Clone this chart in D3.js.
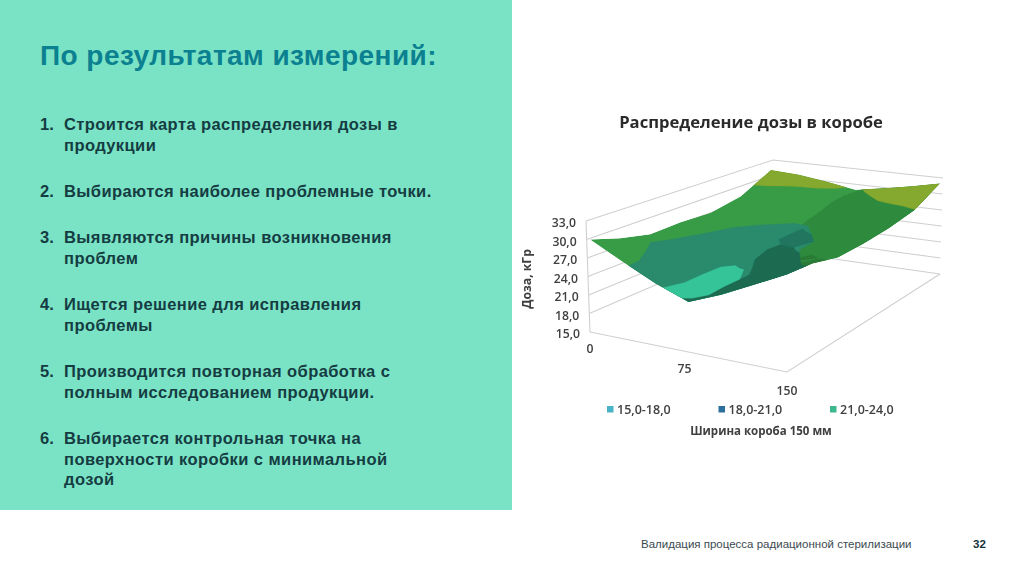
<!DOCTYPE html><html><head><meta charset="utf-8"><script src="https://cdnjs.cloudflare.com/ajax/libs/d3/7.8.5/d3.min.js"></script>
<style>html,body{margin:0;background:#fff}svg{display:block}text{font-family:"Liberation Sans",Arial,sans-serif}.ch text{font-family:"Open Sans",sans-serif}</style></head><body><svg id="c" width="1024" height="574"></svg>
<script>
const yTicks=[15,18,21,24,27,30,33];
const xTicks=[0,75,150];
const legendLabels=["15,0-18,0","18,0-21,0","21,0-24,0"];
const legendColors=["#4bb3c8","#2c6e9c","#3cb88c"];
const listNumbers=["1.","2.","3.","4.","5.","6."];
const listLines=[["Строится карта распределения дозы в","продукции"],["Выбираются наиболее проблемные точки."],["Выявляются причины возникновения","проблем"],["Ищется решение для исправления","проблемы"],["Производится повторная обработка с","полным исследованием продукции."],["Выбирается контрольная точка на","поверхности коробки с минимальной","дозой"]];
const listStartY=[130,197,243,310,377,444];
const heights=[
[30,27.3,24.8,22.9,25,27.5,30],
[28.4,26.5,25,24.5,26,27.8,29.6],
[27.2,26.5,25.6,25.5,26.5,27.5,28.4],
[27.3,27,26.8,26.8,27.3,27.8,28.4],
[27,27.5,27.8,28,28.2,28.5,28.7],
[28,28.8,29,29,29.3,29.5,29.5],
[31,30.7,29.9,29,29.9,30.9,32]];
const darkGreenRows=[
[-1,-1,-1,-1,-1,1,1,1,1,1,1,1,1],
[-1,-1,-1,-1,-1,1,1,1,1,1,1,1,1],
[-1,-1,-1,-1,-1,1,1,1,1,1,1,1,1],
[-1,-1,-1,-1,-1,1,1,1,1,1,1,1,1],
[-1,-1,-1,-1,-1,1,1,1,1,1,1,1,1],
[-1,-1,-1,-1,-1,1,1,1,1,1,1,1,1],
[-1,-1,-1,-1,-1,-1,1,1,1,1,1,1,1],
[-1,-1,-1,-1,-1,-1,-1,.5,1,1,1,1,1],
[-1,-1,-1,-1,-1,-1,-.7,.7,1,1,1,1,1],
[-1,-1,-1,-1,-1,-1,-.7,.9,1,1,1,1,1],
[-1,-1,-1,-1,-1,-1,-.4,1,1,1,1,1,1],
[-1,-1,-1,-1,-1,-1,-.2,1,1,1,1,1,1],
[-1,-1,-1,-1,-1,-1,-.5,.5,1,1,1,1,1]];
const tealRows=[
[-1,-1,-.6,1.2,1,1,1,1,1,1,1,1,1],
[-1,-1,-.2,1,1,1,1,1,1,1,1,1,1],
[-1,-1,.7,1,1,1,1,1,1,1,1,.4,-.6],
[-1.2,.05,.8,1,1,1,1,1,1,1,.7,-.8,-1],
[-.8,-.15,.5,1,1,1,1,1,1,.9,-.7,-1,-1],
[-1.1,-.5,.1,.8,1,1,1,1,1,-.5,-1,-1,-1],
[-1,-.9,-.3,.25,1,1,1,1,1.1,-.4,-1,-1,-1],
[-1,-1,-.65,-.25,.02,.3,.6,.7,-.5,-1,-1,-1,-1],
[-1,-1,-1,-1,-.8,-.55,-.35,-.7,-1,-1,-1,-1,-1],
[-1,-1,-1,-1,-1,-1,-1,-1,-1,-1,-1,-1,-1],
[-1,-1,-1,-1,-1,-1,-1,-1,-1,-1,-1,-1,-1],
[-1,-1,-1,-1,-1,-1,-1,-1,-1,-1,-1,-1,-1],
[-1,-1,-1,-1,-1,-1,-1,-1,-1,-1,-1,-1,-1]];
const lightRows=[
[-1,-1,-1,-1,-.7,.9,1,1,.5,-.5,-1,-1,-1],
[-1,-1,-1,-1,-1,.15,1,1,.3,-.5,-1,-1,-1],
[-1,-1,-1,-1,-1,-.1,1,1,-.8,-1,-1,-1,-1],
[-1,-1,-1,-1,-.7,-.2,.3,-.2,-1,-1,-1,-1,-1],
[-1,-1,-1,-1,-1,-1,-.5,-1,-1,-1,-1,-1,-1],
[-1,-1,-1,-1,-1,-1,-1,-1,-1,-1,-1,-1,-1],
[-1,-1,-1,-1,-1,-1,-1,-1,-1,-1,-1,-1,-1],
[-1,-1,-1,-1,-1,-1,-1,-1,-1,-1,-1,-1,-1],
[-1,-1,-1,-1,-1,-1,-1,-1,-1,-1,-1,-1,-1],
[-1,-1,-1,-1,-1,-1,-1,-1,-1,-1,-1,-1,-1],
[-1,-1,-1,-1,-1,-1,-1,-1,-1,-1,-1,-1,-1],
[-1,-1,-1,-1,-1,-1,-1,-1,-1,-1,-1,-1,-1],
[-1,-1,-1,-1,-1,-1,-1,-1,-1,-1,-1,-1,-1]];
const patchRows=[
[-1,-1,-1,-1,-1,-1,-1,-1,-1,-1,-1,-1,-1],
[-1,-1,-1,-1,-1,-1,-1,-1,-1,-1,-1,-1,-.1],
[-1,-1,-1,-1,-1,-1,-1,-1,-1,-1,-1,-.4,1],
[-1,-1,-1,-1,-1,-1,-1,-1,-1,-1,-.7,.7,.1],
[-1,-1,-1,-1,-1,-1,-1,-1,-1,-.5,.5,-.2,-.7],
[-1,-1,-1,-1,-1,-1,-1,-1,-1,-.2,-.8,-1,-1],
[-1,-1,-1,-1,-1,-1,-1,-1,-1,-1,-1,-1,-1],
[-1,-1,-1,-1,-1,-1,-1,-1,-1,-1,-1,-1,-1],
[-1,-1,-1,-1,-1,-1,-1,-1,-1,-1,-1,-1,-1],
[-1,-1,-1,-1,-1,-1,-1,-1,-1,-1,-1,-1,-1],
[-1,-1,-1,-1,-1,-1,-1,-1,-1,-1,-1,-1,-1],
[-1,-1,-1,-1,-1,-1,-1,-1,-1,-1,-1,-1,-1],
[-1,-1,-1,-1,-1,-1,-1,-1,-1,-1,-1,-1,-1]];
const darkRows=[
[-1,-1,-1,-1,-1,-.5,.3,.1,.5,1,1,1,1],
[-1,-1,-1,-1,-1,-1,-.7,-.25,.4,.8,1,1,1],
[-1,-1,-1,-1,-1,-1,-1,-.5,-.05,.5,1,.4,-.6],
[-1,-1,-1,-1,-1,-1,-1,-.5,.7,1,.7,-.8,-1],
[-1,-1,-1,-1,-1,-1,-1,.4,1,.9,-.7,-1,-1],
[-1,-1,-1,-1,-1,-1,-.9,.6,.3,-.5,-1,-1,-1],
[-1,-1,-1,-1,-1,-1,-.3,-.6,-.6,-1,-1,-1,-1],
[-1,-1,-1,-1,-1,-1,-1,-1,-1,-1,-1,-1,-1],
[-1,-1,-1,-1,-1,-1,-1,-1,-1,-1,-1,-1,-1],
[-1,-1,-1,-1,-1,-1,-1,-1,-1,-1,-1,-1,-1],
[-1,-1,-1,-1,-1,-1,-1,-1,-1,-1,-1,-1,-1],
[-1,-1,-1,-1,-1,-1,-1,-1,-1,-1,-1,-1,-1],
[-1,-1,-1,-1,-1,-1,-1,-1,-1,-1,-1,-1,-1]];
const midDarkRows=[
[-1,-1,-1,-1,-1,-1,-1,-1,-1,-1,-1,-1,-1],
[-1,-1,-1,-1,-1,-1,-1,-1,-1,-1,-1,-1,-1],
[-1,-1,-1,-1,-1,-1,-1,-1,-1,-1,-1,-1,-1],
[-1,-1,-1,-1,-1,-1,-1,-1,-1,-1,-1,-1,-1],
[-1,-1,-1,-1,-1,-1,-1,-1,-1,-1,-1,-1,-1],
[-1,-1,-1,-1,-1,-1,-1,-.6,-.3,-.4,-1,-1,-1],
[-1,-1,-1,-1,-1,-1,-.4,.5,1,-.4,-1,-1,-1],
[-1,-1,-1,-1,-1,-1,-.7,.15,-.5,-1,-1,-1,-1],
[-1,-1,-1,-1,-1,-1,-.9,-.7,-1,-1,-1,-1,-1],
[-1,-1,-1,-1,-1,-1,-1,-1,-1,-1,-1,-1,-1],
[-1,-1,-1,-1,-1,-1,-1,-1,-1,-1,-1,-1,-1],
[-1,-1,-1,-1,-1,-1,-1,-1,-1,-1,-1,-1,-1],
[-1,-1,-1,-1,-1,-1,-1,-1,-1,-1,-1,-1,-1]];
const oliveRows=[
[-1,-1,-1,-1,-1,-1,-1,-1,-1,-1,-1,-1,-1],
[-1,-1,-1,-1,-1,-1,-1,-1,-1,-1,-1,-1,-1],
[-1,-1,-1,-1,-1,-1,-1,-1,-1,-1,-1,-1,-1],
[-1,-1,-1,-1,-1,-1,-1,-1,-1,-1,-1,-1,-1],
[-1,-1,-1,-1,-1,-1,-1,-1,-1,-1,-1,-1,-1],
[-1,-1,-1,-1,-1,-1,-1,-1,-1,-1,-1,-1,-1],
[-1,-1,-1,-1,-1,-1,-1,-1,-1,-1,-1,-1,-1],
[-1,-1,-1,-1,-1,-1,-1,-1,-1,-1,-1,-1,-1],
[-1,-1,-1,-1,-1,-1,-1,-1,-1,-1,-1,-1,-1],
[-1,-1,-1,-1,-1,-1,-1,-1,-1,-1,-1,-1,-1],
[-1,-1,-1,-1,-1,-1,-1,-1,-1,-.7,-.4,-.25,-.05],
[.2,.2,.1,-.1,-.3,-.5,-.8,-.8,0,.7,1,1,1],
[1,1,1,1,1,.3,-.5,.5,1,1,1,1,1]];
const layers=[[darkGreenRows,"#2e8a3e"],[tealRows,"#2a8a6c"],[lightRows,"#36c498"],[patchRows,"#2a7a35"],[darkRows,"#1c6a50"],[midDarkRows,"#20755f"],[oliveRows,"#85a82d"]];
const baseColor="#389c47";

const svg=d3.select('#c');
svg.append('rect').attr('width',1024).attr('height',574).attr('fill','#fff');
svg.append('rect').attr('width',512).attr('height',510).attr('fill','#7be3c5');
svg.append('text').attr('x',40).attr('y',65).attr('font-size',28).attr('font-weight',700).attr('fill','#0a8090').attr('letter-spacing',.45).text('По результатам измерений:');
const lineGap=20.7;
listNumbers.forEach((n,i)=>{
 svg.append('text').attr('x',40).attr('y',listStartY[i]).attr('font-size',16.5).attr('font-weight',700).attr('fill','#143c42').text(n);
 listLines[i].forEach((l,j)=>svg.append('text').attr('x',64).attr('y',listStartY[i]+j*lineGap).attr('font-size',16.5).attr('font-weight',700).attr('fill','#143c42').attr('letter-spacing',.42).text(l));
});
svg.append('text').attr('x',641).attr('y',548).attr('font-size',11.5).attr('fill','#3b4a50').text('Валидация процесса радиационной стерилизации');
svg.append('text').attr('x',973).attr('y',548).attr('font-size',11.5).attr('font-weight',700).attr('fill','#12333a').text('32');

const su=d3.scaleLinear([0,6],[0,1]),sv=d3.scaleLinear([0,6],[0,1]);
const sz=d3.scaleLinear([15,33],[0,1]);
const F={a:[590,332],b:[787,372],c:[940,274],d:[771,250]};
const T={a:[586,221],c:[943,178],d:[773,160]};
const P={a:6.17,b:6.5,c:5.33,d:5};
const lerp=(p,q,t)=>[p[0]+(q[0]-p[0])*t,p[1]+(q[1]-p[1])*t];
const bl=(a,b,c,d,s,t)=>(a*(1-s)+b*s)*(1-t)+(d*(1-s)+c*s)*t;
function zAt(col,row){const c=Math.min(Math.floor(col),5),r=Math.min(Math.floor(row),5),s=col-c,t=row-r;return bl(heights[r][c],heights[r][c+1],heights[r+1][c+1],heights[r+1][c],s,t);}
function proj(s,t,z){return [bl(F.a[0],F.b[0],F.c[0],F.d[0],s,t),bl(F.a[1],F.b[1],F.c[1],F.d[1],s,t)-(z-15)*bl(P.a,P.b,P.c,P.d,s,t)];}
const pt=(col,row)=>proj(su(col),sv(row),zAt(col,row));
const line=d3.line();

const defs=svg.append('defs');
defs.append('filter').attr('id','soft').append('feGaussianBlur').attr('stdDeviation',.45);
defs.append('filter').attr('id','softText').append('feGaussianBlur').attr('stdDeviation',.25);
const ch=svg.append('g').attr('class','ch');
const plot=ch.append('g').attr('filter','url(#soft)');
const grid=plot.append('g').attr('fill','none').attr('stroke','#cfcfcf').attr('stroke-width',1.1);
yTicks.forEach(v=>{const t=sz(v);
 const pts=[lerp(F.a,T.a,t),lerp(F.d,T.d,t),lerp(F.c,T.c,t)];
 if(v===15)pts.shift();
 grid.append('path').attr('d',line(pts));
});
grid.append('path').attr('d',line([F.a,T.a]));
grid.append('path').attr('d',line([F.a,F.b,F.c]));

const outline=[];for(let i=0;i<=6;i++)outline.push(pt(i,0));for(let i=1;i<=6;i++)outline.push(pt(6,i));for(let i=5;i>=0;i--)outline.push(pt(i,6));for(let i=5;i>=0;i--)outline.push(pt(0,i));
defs.append('clipPath').attr('id','surf').append('path').attr('d',line(outline));
const surf=plot.append('g').attr('clip-path','url(#surf)');
surf.append('path').attr('d',line(outline)).attr('fill',baseColor);
const geo=d3.geoPath(d3.geoTransform({point(x,y){
 const col=Math.max(0,Math.min(6,(x-.5)/2)),row=Math.max(0,Math.min(6,(y-.5)/2));
 const p=pt(col,row);this.stream.point(p[0],p[1]);}}));
layers.forEach(([rows,color])=>{
 d3.contours().size([13,13]).thresholds([0]).smooth(true)(rows.flat()).forEach(g=>{
  if(g.coordinates.length)surf.append('path').attr('d',geo(g)).attr('fill',color).attr('stroke',color).attr('stroke-width',.3);});
});

const txt=ch.append('g').attr('fill','#404040').attr('font-weight',700).attr('filter','url(#softText)');
yTicks.forEach(v=>{const p=lerp(F.a,T.a,sz(v));
 txt.append('text').attr('x',p[0]-10).attr('y',p[1]+6).attr('text-anchor','end').attr('font-size',12.2).attr('font-weight',600).text(d3.format('.1f')(v).replace('.',','));});
txt.append('text').attr('transform','translate(531,279) rotate(-90)').attr('text-anchor','middle').attr('font-size',12.2).text('Доза, кГр');
xTicks.forEach(v=>{const p=lerp(F.a,F.b,v/150);
 txt.append('text').attr('x',p[0]-(v===75?4:0)).attr('y',p[1]+(v===150?23:21)).attr('text-anchor','middle').attr('font-size',12.2).attr('font-weight',600).text(v);});
txt.append('text').attr('x',751).attr('y',128).attr('text-anchor','middle').attr('font-size',16.6).attr('fill','#2b2b2b').text('Распределение дозы в коробе');
const legendX=d3.scalePoint().domain(legendLabels).range([607,830]);
legendLabels.forEach((l,i)=>{const x=legendX(l);
 ch.append('rect').attr('x',x).attr('y',406).attr('width',6.5).attr('height',6.5).attr('fill',legendColors[i]);
 txt.append('text').attr('x',x+10).attr('y',414).attr('font-size',12.5).attr('font-weight',600).text(l);});
txt.append('text').attr('x',761).attr('y',435).attr('text-anchor','middle').attr('font-size',11.5).text('Ширина короба 150 мм');
</script></body></html>
